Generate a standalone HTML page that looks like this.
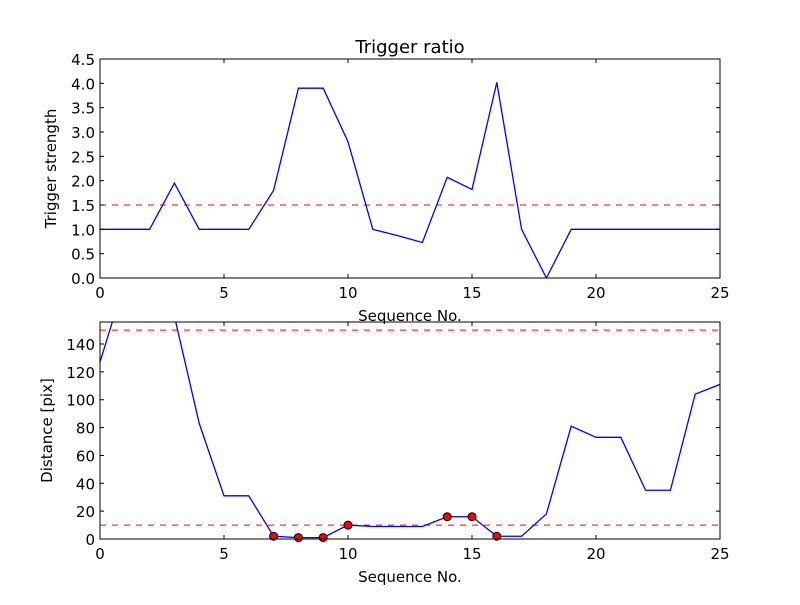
<!DOCTYPE html>
<html><head><meta charset="utf-8"><style>
body{margin:0;background:#fff;}
svg text{font-family:"DejaVu Sans","Liberation Sans",sans-serif;fill:#000;}
</style></head><body>
<svg id="chart" width="800" height="600" xmlns="http://www.w3.org/2000/svg">
<rect width="800" height="600" fill="#fff"/>
<defs>
<clipPath id="c1"><rect x="100" y="59" width="620" height="219"/></clipPath>
<clipPath id="c2"><rect x="100" y="322" width="620" height="217"/></clipPath>
</defs>
<g id="g1"></g>
<g id="g2"></g>
</svg>
<script>
const seqX = [0,1,2,3,4,5,6,7,8,9,10,11,12,13,14,15,16,17,18,19,20,21,22,23,24,25];
const strength = [1,1,1,1.95,1,1,1,1.8,3.9,3.9,2.8,1,0.87,0.73,2.07,1.82,4.02,1,0,1,1,1,1,1,1,1];
const strengthThreshold = 1.5;
const distance = [127,185,200,160,83,31,31,2,1,1,10,9,9,9,16,16,2,2,18,81,73,73,35,35,104,111];
const distThresholds = [150,10];
const markerIdx = [7,8,9,10,14,15,16];
const xTicks = [0,5,10,15,20,25];
const yTicks1 = [0,0.5,1,1.5,2,2.5,3,3.5,4,4.5];
const yTicks2 = [0,20,40,60,80,100,120,140];
const NS="http://www.w3.org/2000/svg";
function mk(p,t,a,txt){const e=document.createElementNS(NS,t);for(const k in a)e.setAttribute(k,a[k]);if(txt!==undefined)e.textContent=txt;p.appendChild(e);return e;}
function panel(g,top,bot,ymax,yT,yFmt,ylabel){
  const L=100,R=720;
  const sx=v=>L+(v-0)/25*(R-L);
  const sy=v=>bot-(v/ymax)*(bot-top);
  return {sx,sy,L,R,draw(){
    const fr=mk(g,'rect',{x:L,y:top,width:R-L,height:bot-top,fill:'none',stroke:'#000','stroke-width':1});
    
    xTicks.forEach(t=>{const x=sx(t);
      mk(g,'line',{x1:x,x2:x,y1:bot,y2:bot-4,stroke:'#000'});mk(g,'line',{x1:x,x2:x,y1:top,y2:top+4,stroke:'#000'});
      const tx=mk(g,'text',{x:x,y:bot+20,'text-anchor':'middle','font-size':15},String(t));
      });
    yT.forEach(t=>{const y=sy(t);
      mk(g,'line',{x1:L,x2:L+4,y1:y,y2:y,stroke:'#000'});mk(g,'line',{x1:R,x2:R-4,y1:y,y2:y,stroke:'#000'});
      const tx=mk(g,'text',{x:L-5,y:y+6,'text-anchor':'end','font-size':15},yFmt(t));
      });
    const xl=mk(g,'text',{x:(L+R)/2,y:bot+43,'text-anchor':'middle','font-size':15},'Sequence No.');
    
    const yl=mk(g,'text',{x:0,y:0,'text-anchor':'middle','font-size':15,transform:`translate(${top<100?56:52},${(top+bot)/2}) rotate(-90)`},ylabel);
    
  }};
}
const g1=document.getElementById('g1'),g2=document.getElementById('g2');
const p1=panel(g1,59,278,4.5,yTicks1,v=>v.toFixed(1),'Trigger strength');
const d1=mk(g1,'g',{'clip-path':'url(#c1)'});
const th=mk(d1,'line',{x1:100,x2:720,y1:p1.sy(strengthThreshold),y2:p1.sy(strengthThreshold),stroke:'#f00','stroke-dasharray':'6,6'});

const l1=mk(d1,'polyline',{fill:'none',stroke:'#00f','stroke-width':1.3,points:strength.map((v,i)=>p1.sx(seqX[i])+','+p1.sy(v)).join(' ')});

p1.draw();
const title=mk(g1,'text',{x:410,y:53,'text-anchor':'middle','font-size':18},'Trigger ratio');


const p2=panel(g2,322,539,155.8,yTicks2,v=>String(v),'Distance [pix]');
const d2=mk(g2,'g',{'clip-path':'url(#c2)'});
distThresholds.forEach(t=>{const l=mk(d2,'line',{x1:100,x2:720,y1:p2.sy(t),y2:p2.sy(t),stroke:'#f00','stroke-dasharray':'6,6'});
  });
const l2=mk(d2,'polyline',{fill:'none',stroke:'#00f','stroke-width':1.3,points:distance.map((v,i)=>p2.sx(seqX[i])+','+p2.sy(v)).join(' ')});

markerIdx.forEach(i=>{const c=mk(g2,'circle',{cx:p2.sx(seqX[i]),cy:p2.sy(distance[i]),r:4,fill:'#f00',stroke:'#000','stroke-width':1});
  });
p2.draw();
</script>
</body></html>
